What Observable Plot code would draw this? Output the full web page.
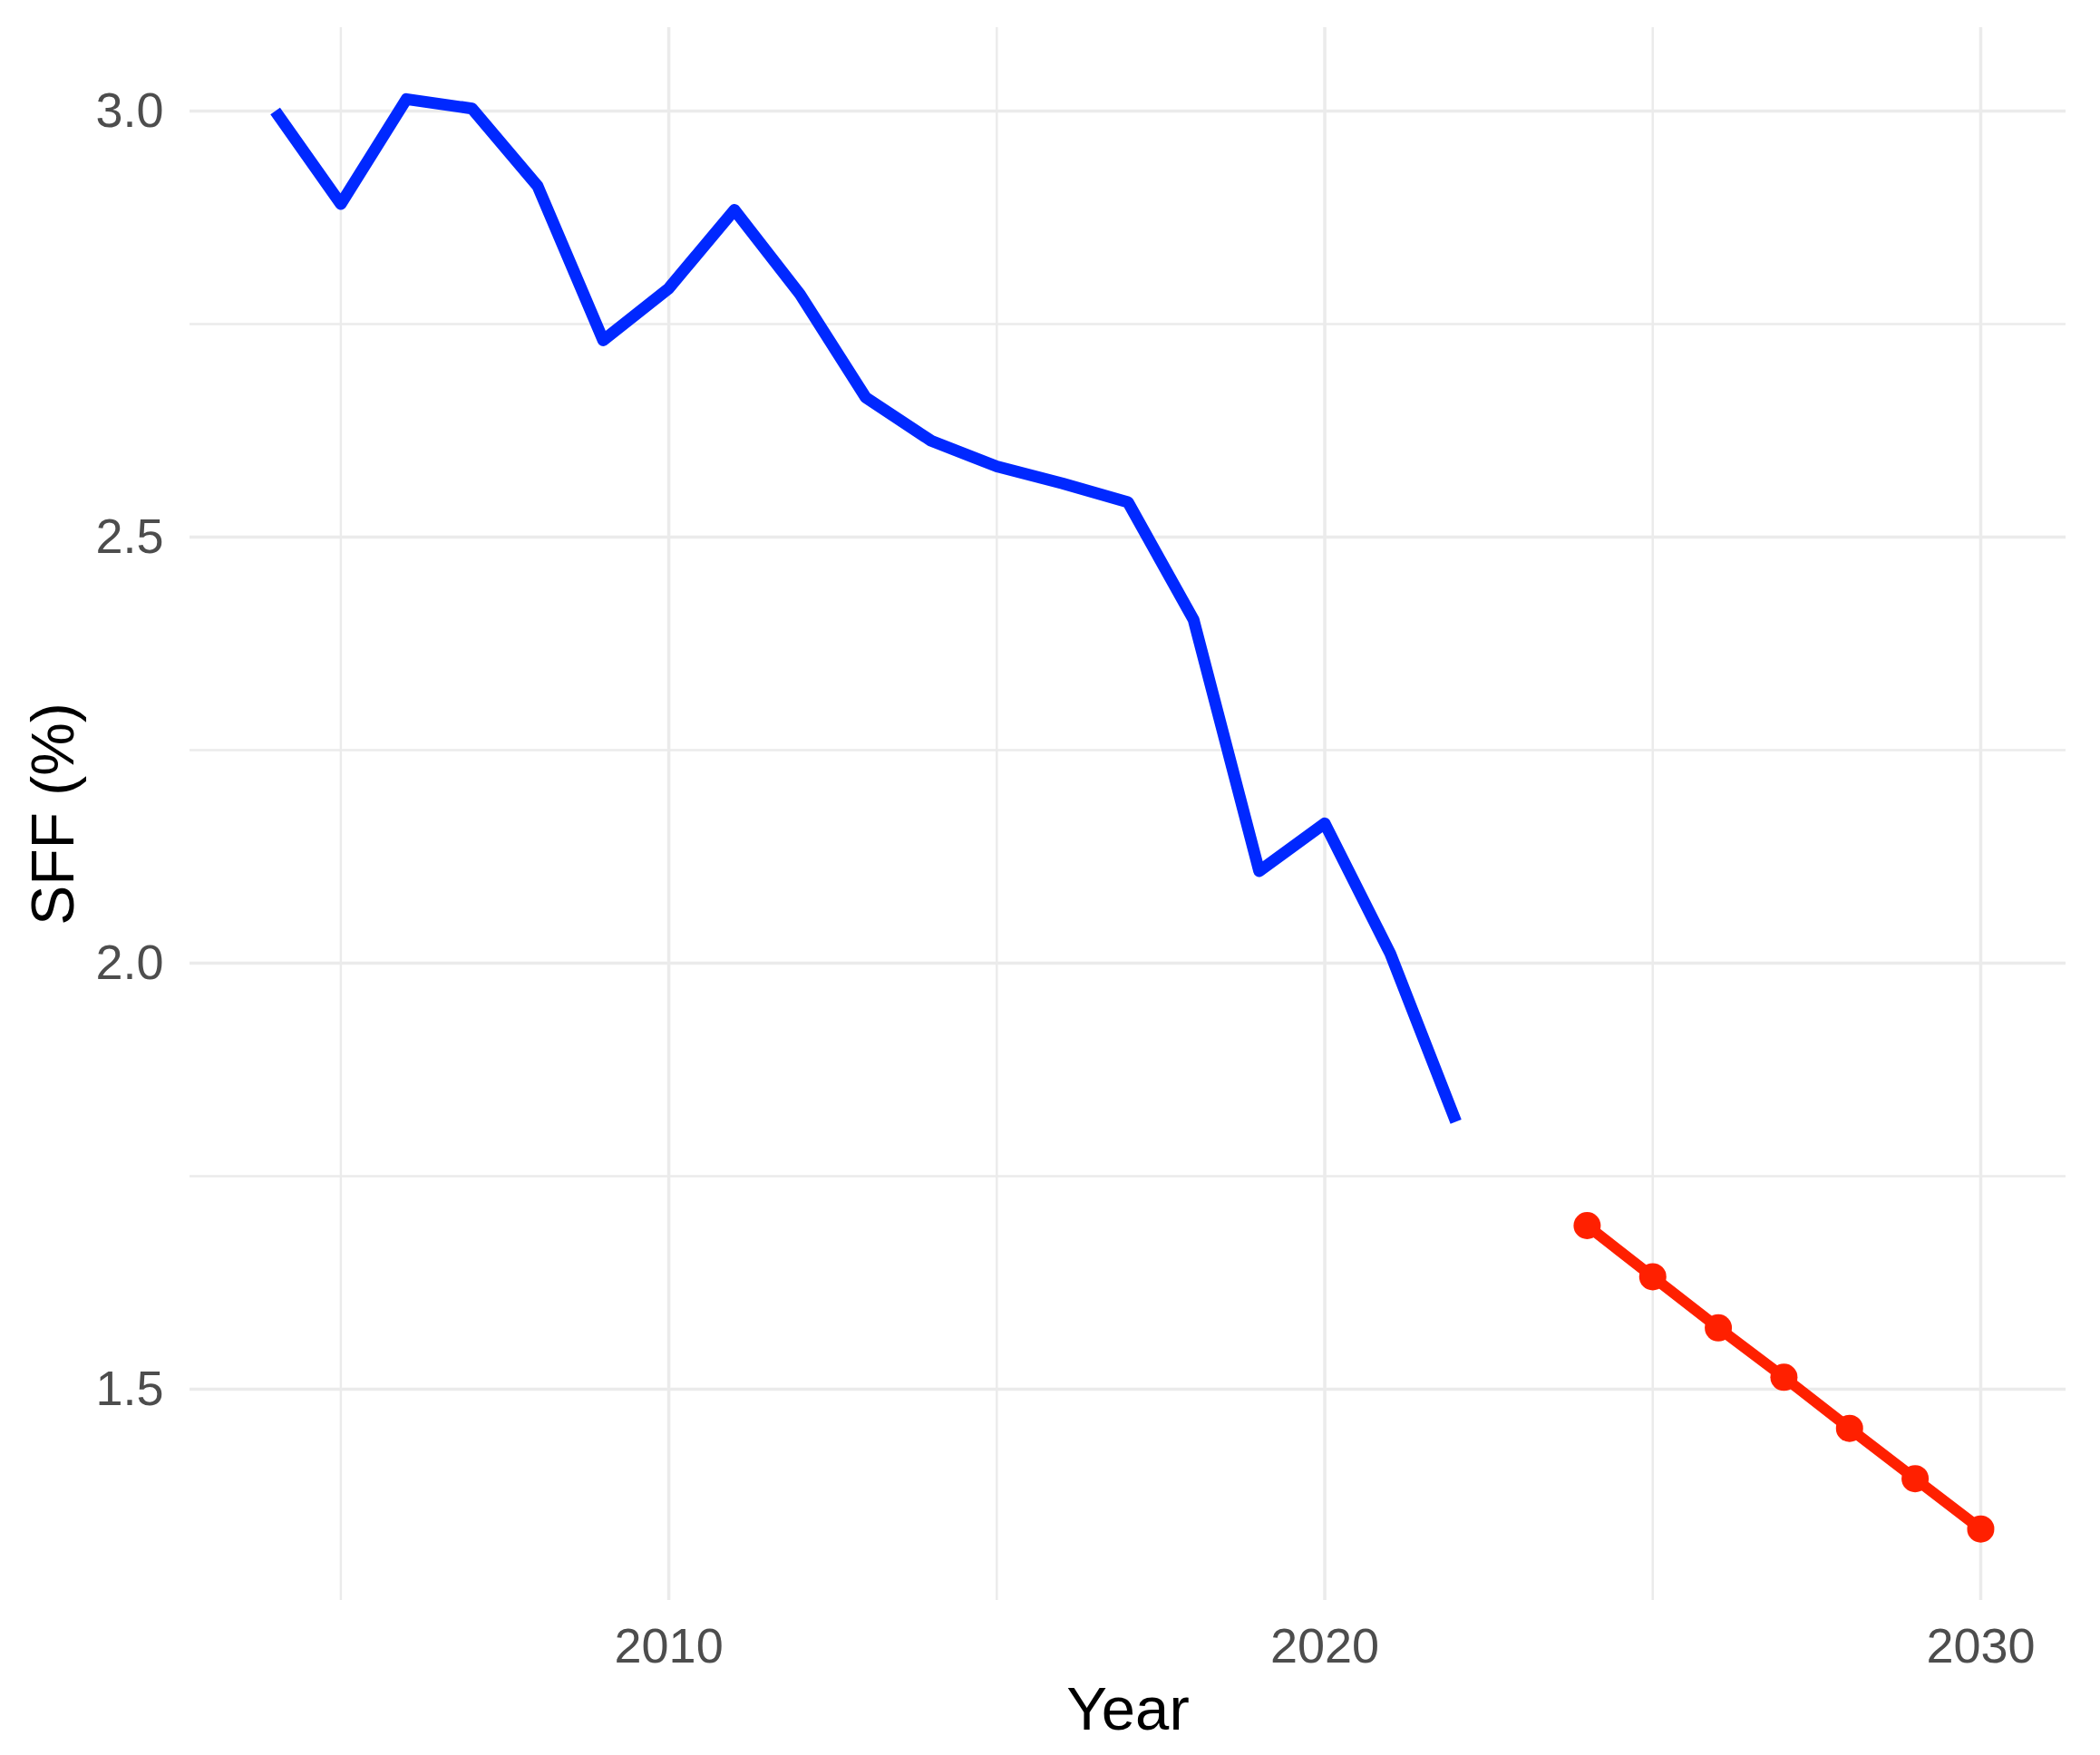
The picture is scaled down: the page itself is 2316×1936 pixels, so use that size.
<!DOCTYPE html>
<html><head><meta charset="utf-8">
<script src="https://cdn.jsdelivr.net/npm/d3@7"></script>
<script src="https://cdn.jsdelivr.net/npm/@observablehq/plot@0.6"></script>
<style>html,body{margin:0;padding:0;background:#fff} svg{display:block}</style>
</head><body><div id="chart"></div>
<script>
// Historical SFF (%)
const histYears = [2004,2005,2006,2007,2008,2009,2010,2011,2012,2013,2014,2015,2016,2017,2018,2019,2020,2021,2022];
const histSFF   = [3.00,2.891,3.014,3.003,2.912,2.731,2.792,2.884,2.785,2.664,2.613,2.583,2.563,2.541,2.403,2.108,2.164,2.011,1.814];
// Projected SFF (%)
const projYears = [2024,2025,2026,2027,2028,2029,2030];
const projSFF   = [1.692,1.632,1.572,1.514,1.454,1.395,1.336];
// Axis ticks
const xMajorTicks = [2010,2020,2030];
const xMinorTicks = [2005,2015,2025];
const yMajorTicks = [1.5,2.0,2.5,3.0];
const yMinorTicks = [1.75,2.25,2.75];

const hist = histYears.map((y,i)=>({year:y, sff:histSFF[i]}));
const proj = projYears.map((y,i)=>({year:y, sff:projSFF[i]}));

const allX = histYears.concat(projYears);
const allY = histSFF.concat(projSFF);
const expand = ([a,b]) => { const d=(b-a)*0.05; return [a-d,b+d]; };
const xDom = expand(d3.extent(allX));
const yDom = expand(d3.extent(allY));

const gridColor = "#ebebeb";
const chart = Plot.plot({
  width: 2316,
  height: 1936,
  marginLeft: 209,
  marginRight: 38,
  marginTop: 30,
  marginBottom: 171,
  style: {fontFamily: "'Liberation Sans', Arial, sans-serif", background: "#fff"},
  x: {domain: xDom},
  y: {domain: yDom},
  marks: [
    Plot.gridX(xMinorTicks, {stroke: gridColor, strokeOpacity: 1, strokeWidth: 2.5}),
    Plot.gridY(yMinorTicks, {stroke: gridColor, strokeOpacity: 1, strokeWidth: 2.5}),
    Plot.gridX(xMajorTicks, {stroke: gridColor, strokeOpacity: 1, strokeWidth: 3.5}),
    Plot.gridY(yMajorTicks, {stroke: gridColor, strokeOpacity: 1, strokeWidth: 3.5}),
    Plot.line(hist, {x: "year", y: "sff", stroke: "#0028ff", strokeWidth: 13, strokeLinejoin: "round", strokeLinecap: "butt"}),
    Plot.line(proj, {x: "year", y: "sff", stroke: "#ff2000", strokeWidth: 12, strokeLinejoin: "round", strokeLinecap: "butt"}),
    Plot.dot(proj, {x: "year", y: "sff", r: 15, fill: "#ff2000", stroke: "none"}),
    Plot.axisX(xMajorTicks, {tickSize: 0, tickPadding: 30, fontSize: 54, fill: "#4d4d4d", label: null, tickFormat: d => String(d)}),
    Plot.axisY(yMajorTicks, {tickSize: 0, tickPadding: 29, fontSize: 54, fill: "#4d4d4d", label: null, tickFormat: d3.format(".1f")}),
    Plot.text(["Year"], {frameAnchor: "bottom", dy: 121, lineAnchor: "middle", fontSize: 67, fill: "#000"}),
    Plot.text(["SFF (%)"], {frameAnchor: "left", dx: -150, rotate: -90, lineAnchor: "middle", textAnchor: "middle", fontSize: 66, fill: "#000"})
  ]
});
document.getElementById("chart").appendChild(chart);
</script>
</body></html>
